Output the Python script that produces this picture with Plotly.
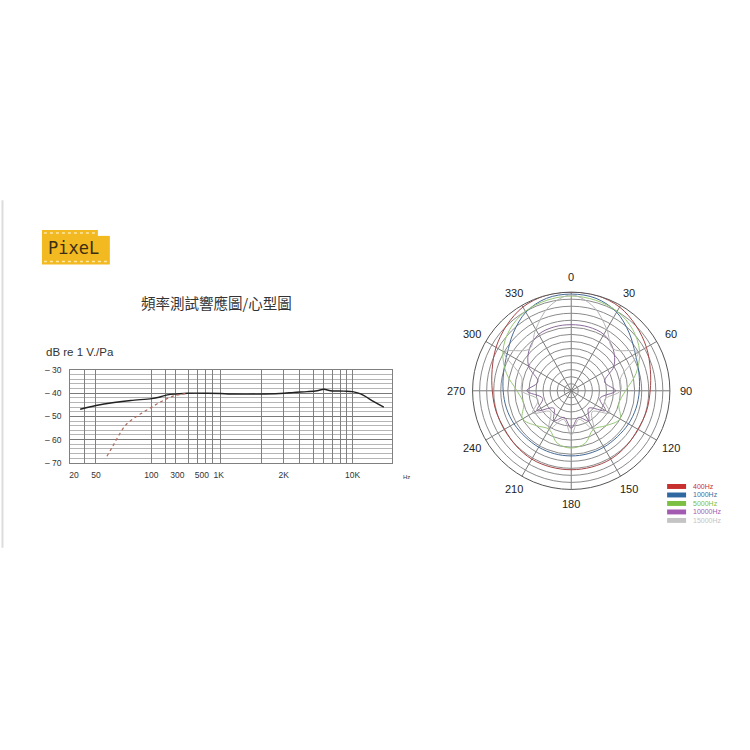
import math
import plotly.graph_objects as go

W = H = 750

# ---------------- data ----------------
# frequency-response chart (x in printed-axis position units 0..100)
grid_x = [0, 4.3, 8.0, 25.3, 29.5, 32.6, 36.7, 39.5, 41.9, 44.2, 46.7, 59.4,
          66.2, 71.3, 75.5, 78.8, 81.6, 84.0, 85.8, 87.7, 100]
label_x = [1.2, 8.0, 25.2, 33.3, 40.9, 46.1, 66.3, 87.7, 100.5]
label_text = ["20", "50", "100", "300", "500", "1K", "2K", "10K", "20K"]
y_ticks = [-70, -60, -50, -40, -30]
y_ticktext = ["– 70", "– 60", "– 50", "– 40", "– 30"]

resp_x = [3.1, 8.0, 13.6, 18.8, 25.3, 27.6, 30.2, 33.3, 36.4, 42.6, 46.7, 49.9,
          60.2, 66.4, 69.5, 73.6, 76.7, 78.8, 80.9, 85.0, 87.7, 90.2, 94.3, 97.4]
resp_db = [-46.9, -45.3, -44.0, -43.1, -42.3, -41.7, -40.7, -40.3, -40.0, -40.0,
           -40.1, -40.3, -40.3, -40.0, -39.6, -39.3, -38.9, -38.3, -38.9, -39.1,
           -39.3, -40.3, -43.6, -46.0]
cut_x = [11.4, 13.2, 15.2, 17.3, 19.9, 23.0, 26.1, 29.2, 32.3, 36.4]
cut_db = [-67.2, -62.9, -57.9, -53.6, -50.7, -47.9, -45.3, -42.9, -41.1, -40.0]

# polar pattern (half pattern 0..180, mirrored)
half_angles = [0, 15, 30, 45, 60, 75, 90, 105, 120, 135, 150, 165, 180]
r400 = [1.0, 1.0, 0.98, 0.93, 0.88, 0.83, 0.80, 0.79, 0.78, 0.79, 0.80, 0.80, 0.80]
r1000 = [0.98, 0.97, 0.92, 0.83, 0.75, 0.71, 0.69, 0.68, 0.67, 0.66, 0.66, 0.66, 0.66]
r5000 = [0.96, 0.95, 0.93, 0.88, 0.80, 0.68, 0.55, 0.50, 0.57, 0.50, 0.45, 0.55, 0.58]
r10000 = [0.67, 0.67, 0.66, 0.60, 0.50, 0.35, 0.45, 0.30, 0.40, 0.25, 0.35, 0.28, 0.38]
r15000 = [0.97, 0.88, 0.72, 0.60, 0.78, 0.52, 0.50, 0.35, 0.45, 0.30, 0.45, 0.30, 0.45]
series_names = ["400Hz", "1000Hz", "5000Hz", "10000Hz", "15000Hz"]
series_r = [r400, r1000, r5000, r10000, r15000]
series_colors = ["#a54444", "#456a96", "#98c878", "#8a6a98", "#b5b5b5"]
legend_swatch = ["#c8302e", "#2f68a0", "#7cc043", "#a25bb0", "#c4c4c4"]
legend_text_col = ["#c8302e", "#3a6f9f", "#7cc043", "#a25bb0", "#c4c4c4"]
polar_ticks = list(range(0, 360, 30))
n_rings = 14

# ---------------- helpers ----------------
def px(x):
    return x / W

def py(y):
    return 1 - y / H

def note(text, x, y, size, color="#333", family=None, xanchor="center"):
    f = dict(size=size, color=color)
    if family:
        f["family"] = family
    return dict(text=text, x=px(x), y=py(y), xref="paper", yref="paper",
                xanchor=xanchor, yanchor="middle", showarrow=False, font=f)

fig = go.Figure()

# frequency response curves
fig.add_trace(go.Scatter(x=resp_x, y=resp_db, mode="lines",
                         line=dict(color="#222222", width=1.4, shape="spline"),
                         xaxis="x", yaxis="y", hoverinfo="skip"))
fig.add_trace(go.Scatter(x=cut_x, y=cut_db, mode="lines",
                         line=dict(color="#b06a5e", width=1.2, dash="dot", shape="spline"),
                         xaxis="x", yaxis="y", hoverinfo="skip"))
# invisible trace for label axis
fig.add_trace(go.Scatter(x=[0, 100], y=[-70, -70], mode="lines",
                         line=dict(width=0), xaxis="x2", yaxis="y",
                         hoverinfo="skip", opacity=0))

# polar curves
for name, rr, col in zip(series_names, series_r, series_colors):
    ang = half_angles + [360 - a for a in half_angles[-2::-1]]
    rad = rr + rr[-2::-1]
    fig.add_trace(go.Scatterpolar(theta=ang, r=rad, mode="lines", name=name,
                                  line=dict(color=col, width=1.0, shape="spline"),
                                  hoverinfo="skip"))

fig.update_layout(
    width=W, height=H, margin=dict(l=0, r=0, t=0, b=0),
    paper_bgcolor="white", plot_bgcolor="white", showlegend=False,
    font=dict(family="Liberation Sans, Arial, sans-serif", color="#333"),
    xaxis=dict(domain=[px(69.3), px(391.7)], range=[0, 100], tickvals=grid_x,
               showticklabels=False, showgrid=True, gridcolor="#808080", gridwidth=1,
               zeroline=False, showline=True, linecolor="#808080", mirror=True,
               ticks="", anchor="y", fixedrange=True),
    xaxis2=dict(domain=[px(69.3), px(391.7)], range=[0, 100], overlaying="x",
                anchor="y", side="bottom", tickvals=label_x, ticktext=label_text,
                showgrid=False, zeroline=False, showline=False, ticks="",
                tickfont=dict(size=8.5, color="#333"), ticklabelstandoff=6),
    yaxis=dict(domain=[py(464), py(370)], range=[-70, -30], tickvals=y_ticks,
               ticktext=y_ticktext, showgrid=True, gridcolor="#7a7a7a", gridwidth=1,
               zeroline=False, showline=True, linecolor="#808080", mirror=True,
               ticks="", tickfont=dict(size=8.5, color="#333"), ticklabelstandoff=6,
               minor=dict(dtick=2, showgrid=True, gridcolor="#b5b5b5", gridwidth=0.8),
               anchor="x"),
    polar=dict(
        domain=dict(x=[px(471), px(671)], y=[py(491), py(291)]),
        bgcolor="white",
        angularaxis=dict(rotation=90, direction="clockwise", tickvals=polar_ticks,
                         showticklabels=False, ticks="",
                         gridcolor="#7a7a7a", gridwidth=0.8, linecolor="#555",
                         linewidth=1),
        radialaxis=dict(range=[0, 1], tickvals=[i / n_rings for i in range(1, n_rings + 1)],
                        showticklabels=False, ticks="", gridcolor="#8a8a8a",
                        gridwidth=0.8, showline=False),
    ),
)

shapes = []
annotations = []

# polar angle labels, set a little further out than plotly's default
cx, cy, lab_r = 571, 391, 115
for t in polar_ticks:
    a = math.radians(t)
    annotations.append(note(str(t), cx + lab_r * math.sin(a), cy - lab_r * math.cos(a),
                            11, "#222"))

# left page border
shapes.append(dict(type="line", xref="paper", yref="paper", x0=px(1.5), x1=px(1.5),
                   y0=py(198), y1=py(550), line=dict(color="#dcdcdc", width=2)))

# logo
shapes.append(dict(type="rect", xref="paper", yref="paper", x0=px(41), x1=px(109),
                   y0=py(263), y1=py(228), fillcolor="#f3b920", line=dict(width=0)))
shapes.append(dict(type="rect", xref="paper", yref="paper", x0=px(97), x1=px(110),
                   y0=py(234), y1=py(227), fillcolor="white", line=dict(width=0)))
for yy, xe in ((231, 95), (260, 107)):
    shapes.append(dict(type="line", xref="paper", yref="paper", x0=px(43), x1=px(xe),
                       y0=py(yy), y1=py(yy), line=dict(color="#fbe7a6", width=1.5, dash="dot")))
annotations.append(note("PixeL", 73, 246, 17, "#3b2f14", "DejaVu Sans Mono"))

# title
annotations.append(note("頻率測試響應圖/心型圖", 216, 302, 14.5, "#333", "Noto Sans CJK TC"))
# y axis label
annotations.append(note("dB re 1 V./Pa", 43, 352, 11.5, "#333", xanchor="left"))
# Hz unit
annotations.append(note("Hz", 406, 478, 6))

# legend for polar
for i, (name, sw, tc) in enumerate(zip(series_names, legend_swatch, legend_text_col)):
    yc = 488 + i * 8.6
    shapes.append(dict(type="rect", xref="paper", yref="paper", x0=px(667), x1=px(686),
                       y0=py(yc + 2.5), y1=py(yc - 2.5), fillcolor=sw, line=dict(width=0)))
    annotations.append(note(name, 691, yc, 7, tc, xanchor="left"))

fig.update_layout(shapes=shapes, annotations=annotations)

fig.write_html("out.html", config={"displayModeBar": False},
               post_script="document.body.style.margin='0';")
